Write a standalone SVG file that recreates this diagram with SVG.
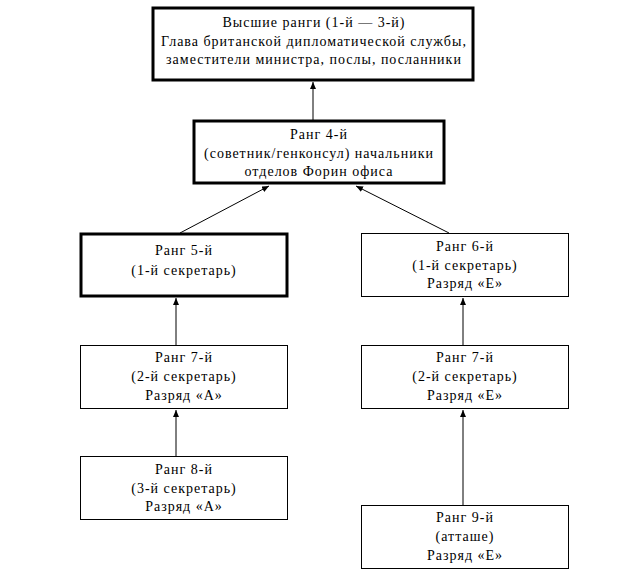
<svg xmlns="http://www.w3.org/2000/svg" width="633" height="585" viewBox="0 0 633 585">
<defs>
<style>
.b{fill:#fff;stroke:#000;stroke-width:1}
.t{fill:#fff;stroke:#000;stroke-width:3}
text{font-family:'Liberation Serif','DejaVu Serif',serif;font-size:14px;letter-spacing:1px;fill:#000;text-anchor:middle}
.c line{stroke:#000;stroke-width:1;marker-end:url(#ah)}
</style>
<marker id="ah" viewBox="0 0 7 6" refX="7" refY="3" markerWidth="7" markerHeight="6" markerUnits="userSpaceOnUse" orient="auto">
<path d="M0,0 L7,3 L0,6 z" fill="#000"/>
</marker>
</defs>
<rect width="633" height="585" fill="#fff"/>
<g class="c" id="connectors">
<line x1="313" y1="120" x2="313" y2="82"/>
<line x1="180" y1="233" x2="269" y2="186"/>
<line x1="449" y1="233" x2="356" y2="186"/>
<line x1="176" y1="345" x2="176" y2="298"/>
<line x1="463" y1="345" x2="463" y2="298"/>
<line x1="176" y1="456" x2="176" y2="410"/>
<line x1="463" y1="505" x2="463" y2="410"/>
</g>
<g id="n1">
<rect class="t" x="153" y="8" width="320" height="72"/>
<text x="314" y="27">Высшие ранги (1-й — 3-й)</text>
<text x="314" y="46">Глава британской дипломатической службы,</text>
<text x="314" y="64">заместители министра, послы, посланники</text>
</g>
<g id="n2">
<rect class="t" x="194" y="121" width="250" height="62"/>
<text x="319" y="139">Ранг 4-й</text>
<text x="319" y="158">(советник/генконсул) начальники</text>
<text x="319" y="176">отделов Форин офиса</text>
</g>
<g id="n3">
<rect class="t" x="81" y="234" width="206" height="62"/>
<text x="184" y="255">Ранг 5-й</text>
<text x="184" y="275">(1-й секретарь)</text>
</g>
<g id="n4">
<rect class="b" x="361.5" y="233.5" width="207" height="63"/>
<text x="465" y="251">Ранг 6-й</text>
<text x="465" y="270">(1-й секретарь)</text>
<text x="465" y="288">Разряд «Е»</text>
</g>
<g id="n5">
<rect class="b" x="80.5" y="345.5" width="207" height="63"/>
<text x="184" y="362">Ранг 7-й</text>
<text x="184" y="381">(2-й секретарь)</text>
<text x="184" y="400">Разряд «А»</text>
</g>
<g id="n6">
<rect class="b" x="361.5" y="345.5" width="207" height="63"/>
<text x="465" y="362">Ранг 7-й</text>
<text x="465" y="381">(2-й секретарь)</text>
<text x="465" y="400">Разряд «Е»</text>
</g>
<g id="n7">
<rect class="b" x="80.5" y="456.5" width="207" height="63"/>
<text x="184" y="474">Ранг 8-й</text>
<text x="184" y="493">(3-й секретарь)</text>
<text x="184" y="511">Разряд «А»</text>
</g>
<g id="n8">
<rect class="b" x="361.5" y="505.5" width="207" height="63"/>
<text x="465" y="522">Ранг 9-й</text>
<text x="465" y="541">(атташе)</text>
<text x="465" y="560">Разряд «Е»</text>
</g>
</svg>
